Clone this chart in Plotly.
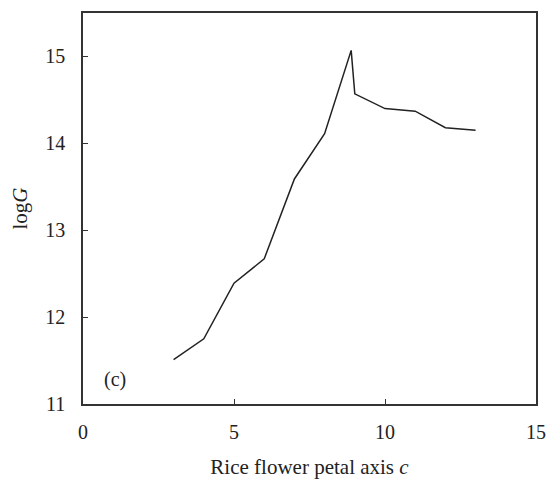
import plotly.graph_objects as go

# Data
petal_axis_c = [3, 4, 5, 6, 7, 8, 8.88, 9, 10, 11, 12, 13]
log_g = [11.51, 11.75, 12.39, 12.67, 13.59, 14.11, 15.07, 14.57, 14.40, 14.37, 14.18, 14.15]

x_ticks = [0, 5, 10, 15]
y_ticks = [11, 12, 13, 14, 15]

FONT = "Liberation Serif, Times New Roman, serif"
AXIS_COLOR = "#333333"

fig = go.Figure()
fig.add_trace(go.Scatter(
    x=petal_axis_c, y=log_g, mode="lines",
    line=dict(color="#222222", width=1.5),
    showlegend=False,
))

fig.add_annotation(
    x=1.05, y=11.28, xref="x", yref="y", text="(c)", showarrow=False,
    font=dict(family=FONT, size=20, color="#222222"),
)

fig.update_layout(
    width=549, height=479,
    margin=dict(l=83, r=13, t=13, b=75),
    paper_bgcolor="white", plot_bgcolor="white",
    font=dict(family=FONT, size=20, color="#222222"),
    xaxis=dict(
        range=[0, 15], tickvals=x_ticks, ticks="inside", ticklen=5,
        tickwidth=1.2, tickcolor=AXIS_COLOR, automargin=False,
        showline=True, linecolor=AXIS_COLOR, linewidth=1.5, mirror=True,
        showgrid=False, zeroline=False, ticklabelstandoff=9,
        title=dict(text="Rice flower petal axis <i>c</i>", font=dict(size=21), standoff=18),
    ),
    yaxis=dict(
        range=[11, 15.5], tickvals=y_ticks, ticks="inside", ticklen=5,
        tickwidth=1.2, tickcolor=AXIS_COLOR, automargin=False,
        showline=True, linecolor=AXIS_COLOR, linewidth=1.5, mirror=True,
        showgrid=False, zeroline=False, ticklabelstandoff=12,
        title=dict(text="log<i>G</i>", font=dict(size=21), standoff=12),
    ),
)

fig.write_html("out.html")
